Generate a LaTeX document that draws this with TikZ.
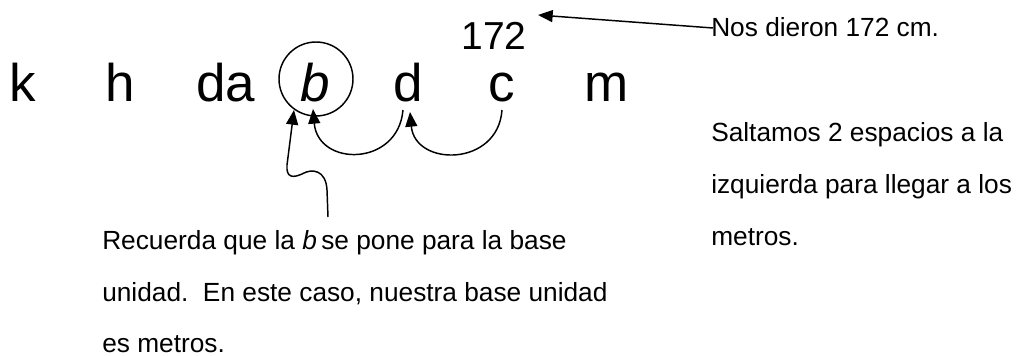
\documentclass[tikz,border=0pt]{standalone}
\usepackage{fontspec}
\setmainfont{Liberation Sans}
\usetikzlibrary{arrows.meta}
\begin{document}
\begin{tikzpicture}[x=0.75pt,y=-0.75pt,
  big/.style={anchor=base,inner sep=0pt,font=\fontsize{39.75pt}{40pt}\selectfont},
  num/.style={anchor=base,inner sep=0pt,font=\fontsize{29.25pt}{30pt}\selectfont},
  txt/.style={anchor=base west,inner sep=0pt,font=\fontsize{19.7pt}{22pt}\selectfont},
  conn/.style={line width=1.1pt,-{Triangle[length=11pt,width=9pt]}},
  ring/.style={draw,circle,line width=1.1pt,minimum size=55.5pt,inner sep=0pt}]
\useasboundingbox (0,0) rectangle (1018,356);
% unit letters
\node[big] (k) at (22.5,102) {k};
\node[big] (h) at (120,102) {h};
\node[big] (da) at (226,102) {da};
\node[big] (b) at (315,102) {\itshape b};
\node[ring] (ring) at (316,79) {};
\node[big] (d) at (408,102) {d};
\node[big] (c) at (502,102) {c};
\node[big] (m) at (607,102) {m};
\node[num] (n172) at (494,50) {172};
% texts
\node[txt] (nos) at (711,37) {Nos dieron 172 cm.};
\node[txt] (s1) at (711,142) {Saltamos 2 espacios a la};
\node[txt] (s2) at (711,194) {izquierda para llegar a los};
\node[txt] (s3) at (711,246) {metros.};
\node[txt] (r1) at (102,249) {Recuerda que la \textit{b}\,se pone para la base};
\node[txt] (r2) at (102,301) {unidad.\ \ En este caso, nuestra base unidad};
\node[txt] (r3) at (102,352) {es metros.};
% connector points
\coordinate (tip172) at (538,15);
\coordinate (nosend) at (713,28);
\coordinate (cstart) at (502,110);
\coordinate (dtip) at (410,112);
\coordinate (dstart) at (403,110);
\coordinate (btip) at (313,109);
\coordinate (sqstart) at (328,217);
\coordinate (sqtip) at (294,110);
% connectors
\draw[conn] (nosend) -- (tip172);
\draw[conn] (cstart) .. controls (498,167) and (415,167) .. (dtip);
\draw[conn] (dstart) .. controls (398,167) and (318,167) .. (btip);
\draw[conn] (sqstart) -- (327,190) .. controls (326,170) and (312,168) .. (302,174)
  .. controls (293,178) and (286,178) .. (287,165) -- (sqtip);
\end{tikzpicture}
\end{document}
